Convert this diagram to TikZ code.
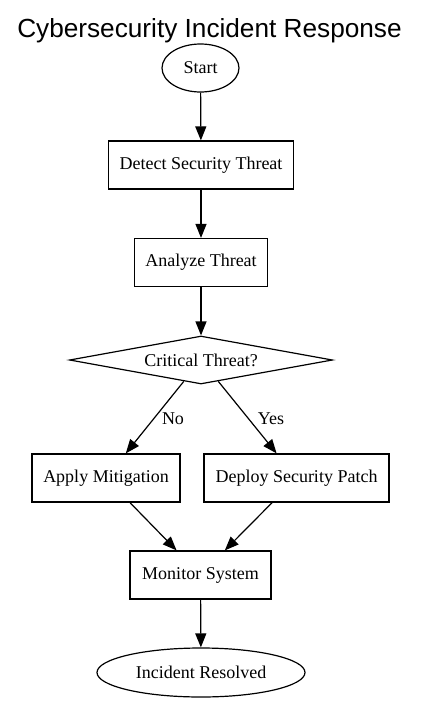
\documentclass[tikz,border=0pt]{standalone}
\usepackage{fontspec}
\setmainfont{Liberation Serif}
\newfontfamily\titlefont{Liberation Sans}
\usetikzlibrary{shapes.geometric,arrows.meta}
\begin{document}
\begin{tikzpicture}[x=1pt,y=-1pt,
  base/.style={draw, line width=1.2pt, inner sep=0pt, font=\fontsize{18}{21}\selectfont},
  proc/.style={base, rectangle, minimum height=48pt},
  term/.style={base, ellipse},
  dec/.style={base, diamond, aspect=5.48, minimum width=263pt, minimum height=48pt},
  lbl/.style={font=\fontsize{18}{21}\selectfont, inner sep=0pt},
  edge/.style={line width=1.2pt, -{Triangle[length=14pt,width=11pt]}}
]
\useasboundingbox (0,0) rectangle (421,702);
\node[font=\titlefont\fontsize{26.2}{30}\selectfont, anchor=base, inner sep=0pt] (title) at (209.5,37) {Cybersecurity Incident Response};

\node[term, minimum width=77pt, minimum height=48pt] (start) at (200.5,68) {Start};
\node[proc, minimum width=185pt] (detect) at (201,165) {Detect Security Threat};
\node[proc, minimum width=133pt] (analyze) at (201,262.5) {Analyze Threat};
\node[dec] (crit) at (201,360) {Critical Threat?};
\node[proc, minimum width=148pt] (apply) at (106,478) {Apply Mitigation};
\node[proc, minimum width=185pt] (deploy) at (296.5,478) {Deploy Security Patch};
\node[proc, minimum width=141pt] (monitor) at (200.5,575) {Monitor System};
\node[term, minimum width=208pt, minimum height=49pt] (resolved) at (201,672.5) {Incident Resolved};

\draw[edge] (start) -- (detect);
\draw[edge] (detect) -- (analyze);
\draw[edge] (analyze) -- (crit);
\draw[edge] (crit) -- (apply);
\draw[edge] (crit) -- (deploy);
\draw[edge] (apply) -- (monitor);
\draw[edge] (deploy) -- (monitor);
\draw[edge] (monitor) -- (resolved);

\node[lbl] (no) at (173,419) {No};
\node[lbl] (yes) at (271,419) {Yes};
\end{tikzpicture}
\end{document}
